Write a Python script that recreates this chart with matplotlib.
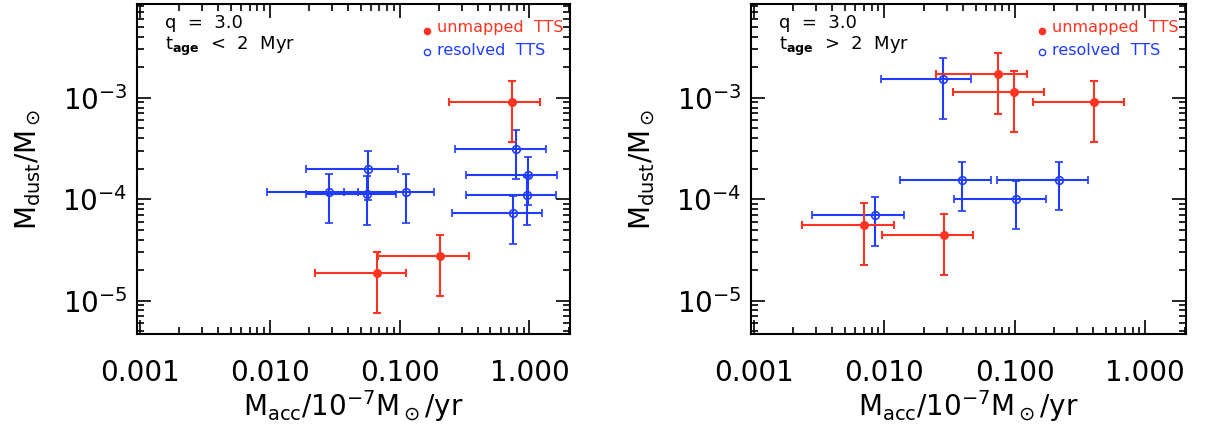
import numpy as np
import matplotlib
matplotlib.use("Agg")
import matplotlib.pyplot as plt
from matplotlib.ticker import FixedLocator, FixedFormatter, LogLocator, NullFormatter

RED = "#ff3322"
BLUE = "#1f3cff"

# ---- left panel: t_age < 2 Myr ----
# unmapped TTS (red, filled)
l_red_x = [0.733, 0.0668, 0.204]
l_red_xlo = [0.241, 0.0223, 0.0678]
l_red_xhi = [1.20, 0.112, 0.341]
l_red_y = [9.1e-4, 1.87e-5, 2.76e-5]
l_red_ylo = [3.65e-4, 7.5e-6, 1.11e-5]
l_red_yhi = [1.47e-3, 3.0e-5, 4.45e-5]

# resolved TTS (blue, open)
l_blue_x = [0.79, 0.973, 0.96, 0.753, 0.0573, 0.0287, 0.0565, 0.112]
l_blue_xlo = [0.265, 0.327, 0.323, 0.254, 0.0191, 0.0096, 0.0189, 0.037]
l_blue_xhi = [1.33, 1.64, 1.60, 1.26, 0.0964, 0.0476, 0.0938, 0.184]
l_blue_y = [3.14e-4, 1.75e-4, 1.11e-4, 7.28e-5, 1.98e-4, 1.17e-4, 1.13e-4, 1.17e-4]
l_blue_ylo = [1.57e-4, 8.73e-5, 5.53e-5, 3.65e-5, 9.9e-5, 5.83e-5, 5.6e-5, 5.85e-5]
l_blue_yhi = [4.77e-4, 2.63e-4, 1.67e-4, 1.08e-4, 2.95e-4, 1.76e-4, 1.7e-4, 1.76e-4]

# ---- right panel: t_age > 2 Myr ----
r_red_x = [0.0745, 0.0993, 0.406, 0.00701, 0.0286]
r_red_xlo = [0.025, 0.0335, 0.137, 0.00235, 0.0096]
r_red_xhi = [0.123, 0.166, 0.682, 0.0118, 0.0478]
r_red_y = [1.71e-3, 1.14e-3, 9.1e-4, 5.62e-5, 4.41e-5]
r_red_ylo = [6.85e-4, 4.55e-4, 3.65e-4, 2.25e-5, 1.78e-5]
r_red_yhi = [2.76e-3, 1.83e-3, 1.47e-3, 9.14e-5, 7.07e-5]

r_blue_x = [0.0279, 0.0392, 0.218, 0.1028, 0.00843]
r_blue_xlo = [0.00934, 0.0131, 0.073, 0.0344, 0.0028]
r_blue_xhi = [0.0465, 0.0655, 0.364, 0.173, 0.01416]
r_blue_y = [1.53e-3, 1.54e-4, 1.55e-4, 1.0e-4, 7.0e-5]
r_blue_ylo = [6.11e-4, 7.67e-5, 7.75e-5, 5.06e-5, 3.49e-5]
r_blue_yhi = [2.44e-3, 2.32e-4, 2.33e-4, 1.52e-4, 1.05e-4]

xticks = [0.001, 0.01, 0.1, 1.0]
xticklabels = ["0.001", "0.010", "0.100", "1.000"]
age_labels = [r"t$_{\mathbf{age}}$  <  2  Myr", r"t$_{\mathbf{age}}$  >  2  Myr"]

plt.rcParams["mathtext.fontset"] = "dejavusans"


def errs(v, lo, hi):
    v = np.array(v)
    return [v - np.array(lo), np.array(hi) - v]


def draw(ax, rx, rxlo, rxhi, ry, rylo, ryhi, bx, bxlo, bxhi, by, bylo, byhi, age):
    ax.errorbar(bx, by, xerr=errs(bx, bxlo, bxhi), yerr=errs(by, bylo, byhi),
                fmt="o", mfc="none", mec=BLUE, ms=5.5, mew=1.2, color=BLUE,
                ecolor=BLUE, elinewidth=1.5, capsize=2.8, capthick=1.5)
    ax.errorbar(rx, ry, xerr=errs(rx, rxlo, rxhi), yerr=errs(ry, rylo, ryhi),
                fmt="o", mfc=RED, mec=RED, ms=5.5, color=RED,
                ecolor=RED, elinewidth=1.5, capsize=2.8, capthick=1.5)
    ax.set_xscale("log")
    ax.set_yscale("log")
    ax.set_xlim(0.00095, 2.05)
    ax.set_ylim(4.7e-6, 8.4e-3)
    ax.xaxis.set_major_locator(FixedLocator(xticks))
    ax.xaxis.set_major_formatter(FixedFormatter(xticklabels))
    ax.xaxis.set_minor_locator(LogLocator(base=10, subs=np.arange(2, 10)))
    ax.xaxis.set_minor_formatter(NullFormatter())
    ax.yaxis.set_minor_locator(LogLocator(base=10, subs=np.arange(2, 10)))
    ax.yaxis.set_minor_formatter(NullFormatter())
    ax.tick_params(which="both", direction="in", top=True, right=True, width=1.2)
    ax.tick_params(which="major", length=10)
    ax.tick_params(which="minor", length=5)
    ax.tick_params(axis="x", which="major", labelsize=20, pad=18)
    ax.tick_params(axis="y", which="major", labelsize=20, pad=7)
    for s in ax.spines.values():
        s.set_linewidth(1.5)
    ax.set_xlabel(r"M$_{\rm acc}$/10$^{-7}$M$_\odot$/yr", fontsize=20, labelpad=1)
    ax.set_ylabel(r"M$_{\rm dust}$/M$_\odot$", fontsize=20, labelpad=14)
    ax.text(0.065, 0.927, "q  =  3.0", transform=ax.transAxes, fontsize=13,
            va="baseline", ha="left")
    ax.text(0.065, 0.861, age, transform=ax.transAxes, fontsize=13,
            va="baseline", ha="left")
    # legend
    ax.plot([0.67], [0.918], "o", color=RED, ms=4.5, transform=ax.transAxes)
    ax.text(0.693, 0.927, "unmapped  TTS", color=RED, transform=ax.transAxes,
            fontsize=11.5, va="center", ha="left")
    ax.plot([0.67], [0.855], "o", mfc="none", mec=BLUE, ms=4.5, mew=1,
            transform=ax.transAxes)
    ax.text(0.693, 0.86, "resolved  TTS", color=BLUE, transform=ax.transAxes,
            fontsize=11.5, va="center", ha="left")


fig = plt.figure(figsize=(12.07, 4.32), dpi=100)
ax1 = fig.add_axes([0.1135, 0.227, 0.3587, 0.764])
ax2 = fig.add_axes([0.6222, 0.227, 0.3604, 0.764])

draw(ax1, l_red_x, l_red_xlo, l_red_xhi, l_red_y, l_red_ylo, l_red_yhi,
     l_blue_x, l_blue_xlo, l_blue_xhi, l_blue_y, l_blue_ylo, l_blue_yhi, age_labels[0])
draw(ax2, r_red_x, r_red_xlo, r_red_xhi, r_red_y, r_red_ylo, r_red_yhi,
     r_blue_x, r_blue_xlo, r_blue_xhi, r_blue_y, r_blue_ylo, r_blue_yhi, age_labels[1])

fig.savefig("out.png", dpi=100)
